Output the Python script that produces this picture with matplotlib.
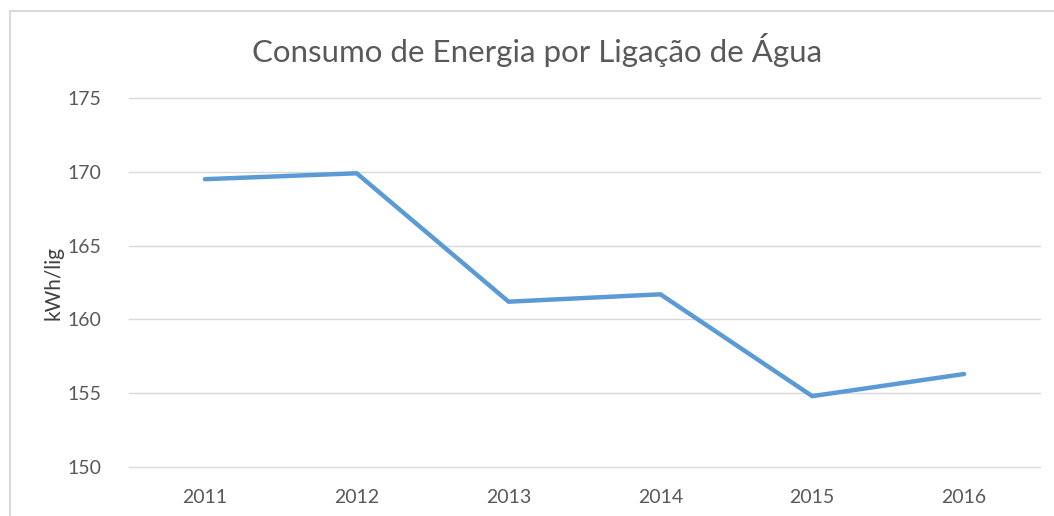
import matplotlib
matplotlib.use("Agg")
import matplotlib.pyplot as plt
from matplotlib.patches import Rectangle

years = ["2011", "2012", "2013", "2014", "2015", "2016"]
values = [169.5, 169.9, 161.2, 161.7, 154.8, 156.3]
y_ticks = [150, 155, 160, 165, 170, 175]

plt.rcParams['font.family'] = ['Lato', 'DejaVu Sans']

fig = plt.figure(figsize=(10.54, 5.16), dpi=100)
ax = fig.add_axes([129/1054, 1 - 467/516, (1040 - 129)/1054, (467 - 98)/516])

x = list(range(len(years)))
ax.plot(x, values, color="#5B9BD5", lw=3.2, solid_capstyle="round", solid_joinstyle="miter")
ax.set_xlim(-0.5, len(years) - 0.5)
ax.set_ylim(150, 175)
ax.set_yticks(y_ticks)
ax.set_xticks(x)
ax.set_xticklabels(years)
ax.grid(axis="y", color="#d9d9d9", lw=1.0)
for gl in ax.get_ygridlines():
    gl.set_clip_on(False)
ax.set_axisbelow(True)
for s in ax.spines.values():
    s.set_visible(False)
ax.tick_params(axis="both", length=0, labelsize=14, colors="#595959")
ax.tick_params(axis="y", pad=20)
ax.tick_params(axis="x", pad=16)
ax.set_ylabel("kWh/lig", fontsize=15, color="#404040", labelpad=3)

fig.text(537/1054, 1 - 50/516, "Consumo de Energia por Ligação de Água",
         ha="center", va="center", fontsize=22.5, color="#595959")

fig.patches.append(Rectangle((9.5/1054, -0.1), 1.2, 1 - 11/516 + 0.1,
                             transform=fig.transFigure, fill=False,
                             edgecolor="#d9d9d9", lw=1.5))

fig.savefig("out.png", dpi=100)
